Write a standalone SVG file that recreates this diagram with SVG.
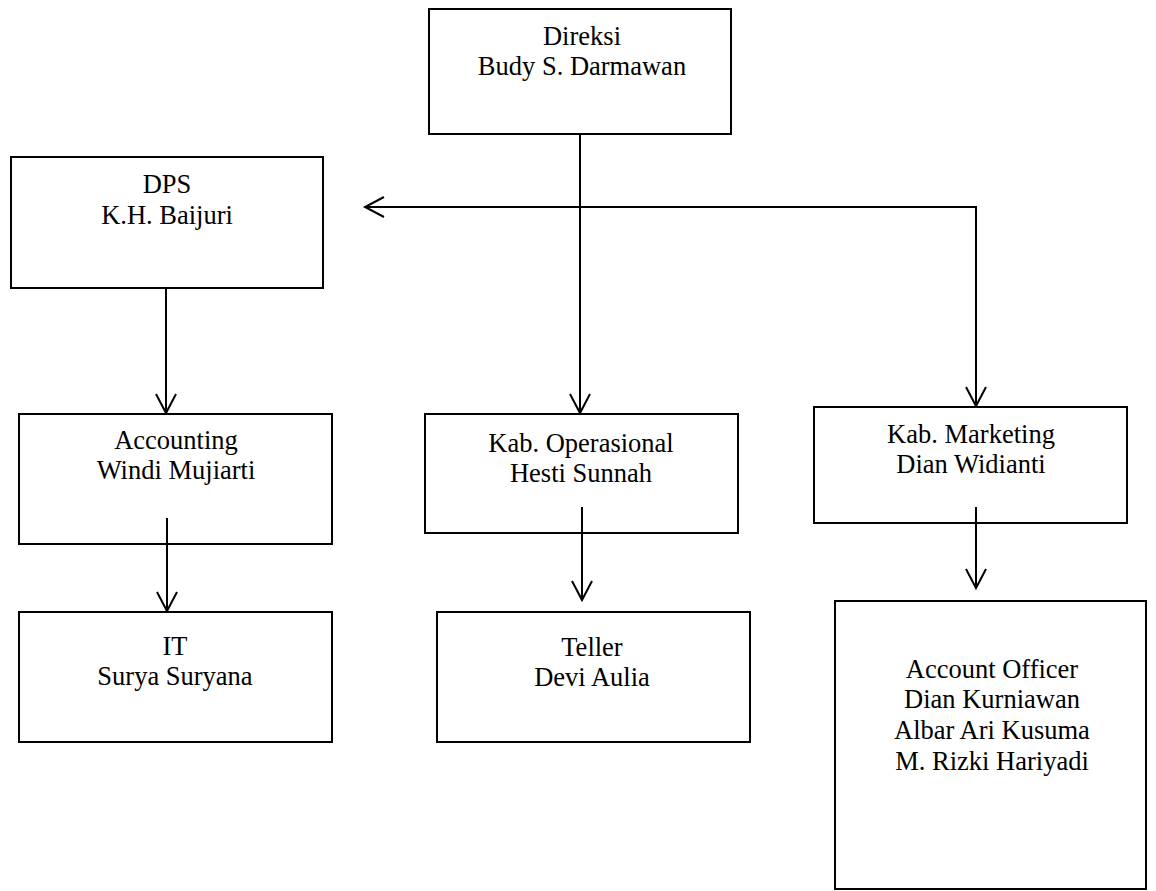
<svg xmlns="http://www.w3.org/2000/svg" width="1156" height="891" viewBox="0 0 1156 891">
<style>
.box{fill:#fff;stroke:#000;stroke-width:2}
.t{font-family:"Liberation Serif","Times New Roman",serif;font-size:26.5px;fill:#000;text-anchor:middle}
.c{fill:none;stroke:#000;stroke-width:2;marker-end:url(#arr)}
</style>
<defs>
<marker id="arr" markerUnits="userSpaceOnUse" markerWidth="24" markerHeight="24" viewBox="0 0 24 24" refX="21" refY="12" orient="auto">
<path d="M2,2 L21,12 L2,22" fill="none" stroke="#000" stroke-width="2"/>
</marker>
</defs>
<rect width="1156" height="891" fill="#fff"/>
<g id="direksi"><rect class="box" x="429" y="9" width="302" height="125"/><text class="t" x="582" y="45">Direksi</text><text class="t" x="582" y="75">Budy S. Darmawan</text></g>
<g id="dps"><rect class="box" x="11" y="157" width="312" height="131"/><text class="t" x="167" y="193">DPS</text><text class="t" x="167" y="224">K.H. Baijuri</text></g>
<g id="accounting"><rect class="box" x="19" y="414" width="313" height="130"/><text class="t" x="176" y="449">Accounting</text><text class="t" x="176" y="479">Windi Mujiarti</text></g>
<g id="it"><rect class="box" x="19" y="612" width="313" height="130"/><text class="t" x="175" y="655">IT</text><text class="t" x="175" y="685">Surya Suryana</text></g>
<g id="operasional"><rect class="box" x="425" y="414" width="313" height="119"/><text class="t" x="581" y="452">Kab. Operasional</text><text class="t" x="581" y="482">Hesti Sunnah</text></g>
<g id="teller"><rect class="box" x="437" y="612" width="313" height="130"/><text class="t" x="592" y="656">Teller</text><text class="t" x="592" y="686">Devi Aulia</text></g>
<g id="marketing"><rect class="box" x="814" y="407" width="313" height="116"/><text class="t" x="971" y="443">Kab. Marketing</text><text class="t" x="971" y="473">Dian Widianti</text></g>
<g id="account-officer"><rect class="box" x="835" y="601" width="311" height="288"/><text class="t" x="992" y="678">Account Officer</text><text class="t" x="992" y="708">Dian Kurniawan</text><text class="t" x="992" y="739">Albar Ari Kusuma</text><text class="t" x="992" y="770">M. Rizki Hariyadi</text></g>
<g id="connectors">
<path class="c" d="M580,134 V413"/>
<path class="c" d="M977,207 H365"/>
<path class="c" d="M976,207 V406"/>
<path class="c" d="M166,288 V413"/>
<path class="c" d="M167,518 V611"/>
<path class="c" d="M582,507 V600"/>
<path class="c" d="M976,507 V588"/>
</g>
</svg>
